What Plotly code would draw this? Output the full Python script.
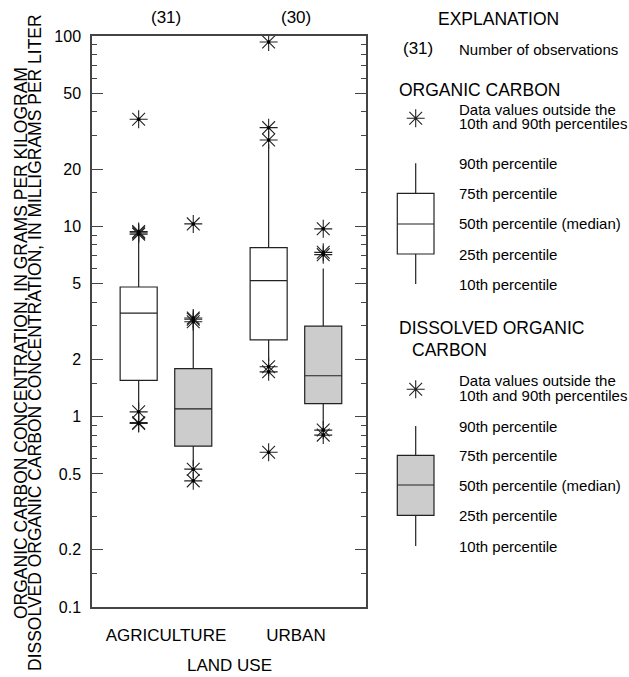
import plotly.graph_objects as go

# ---------------- data ----------------
land_use = ["AGRICULTURE", "URBAN"]
n_obs = [31, 30]

# Organic carbon (g/kg) box statistics per land use
oc_p10 = [1.1, 1.95]
oc_q1 = [1.55, 2.53]
oc_med = [3.5, 5.18]
oc_q3 = [4.8, 7.72]
oc_p90 = [9.0, 27.0]
oc_out_ag = [36.5, 9.4, 9.25, 9.1, 1.06, 0.93, 0.92]
oc_out_ur = [93.0, 33.0, 28.4, 1.83, 1.72, 0.65]

# Dissolved organic carbon (mg/L) box statistics per land use
doc_p10 = [0.55, 0.9]
doc_q1 = [0.70, 1.17]
doc_med = [1.10, 1.64]
doc_q3 = [1.79, 2.99]
doc_p90 = [3.0, 6.0]
doc_out_ag = [10.3, 3.3, 3.25, 3.15, 0.53, 0.46]
doc_out_ur = [9.7, 7.3, 7.1, 0.85, 0.80]

y_tickvals = [0.1, 0.2, 0.5, 1, 2, 5, 10, 20, 50, 100]
y_ticktext = ["0.1", "0.2", "0.5", "1", "2", "5", "10", "20", "50", "100"]
y_minor = [0.15, 0.3, 0.4, 0.6, 0.7, 0.8, 0.9,
           1.5, 3, 4, 6, 7, 8, 9,
           15, 30, 40, 60, 70, 80, 90]

# ---------------- style / layout helpers ----------------
W, H = 629, 677
L, R, T, B = 92, 0, 36, 70
PW = W - L - R
PH = H - T - B
PLOT_RIGHT = 366
OFF = 0.21
BOXW = 0.285
LINE = "#222222"
AX = "#444444"
FONT = "Liberation Sans, Arial, Helvetica, sans-serif"


def xp(px):   # screen px -> paper
    return (px - L) / PW


def yp(py):   # screen px -> paper
    return (T + PH - py) / PH


fig = go.Figure()

idx = list(range(len(land_use)))
oc_pos = [i - OFF for i in idx]
doc_pos = [i + OFF for i in idx]

fig.add_trace(go.Box(
    x=oc_pos, q1=oc_q1, median=oc_med, q3=oc_q3,
    lowerfence=oc_p10, upperfence=oc_p90,
    width=BOXW, whiskerwidth=0, boxpoints=False,
    fillcolor="white", line=dict(color=LINE, width=1.2),
    showlegend=False, hoverinfo="skip"))
fig.add_trace(go.Box(
    x=doc_pos, q1=doc_q1, median=doc_med, q3=doc_q3,
    lowerfence=doc_p10, upperfence=doc_p90,
    width=BOXW, whiskerwidth=0, boxpoints=False,
    fillcolor="#cccccc", line=dict(color=LINE, width=1.2),
    showlegend=False, hoverinfo="skip"))

out_sets = [(oc_pos[0], oc_out_ag), (oc_pos[1], oc_out_ur),
            (doc_pos[0], doc_out_ag), (doc_pos[1], doc_out_ur)]
ox, oy = [], []
for pos, vals in out_sets:
    ox += [pos] * len(vals)
    oy += vals

STAR = dict(symbol="asterisk-open", size=15, color=LINE,
            line=dict(color=LINE, width=1.1))
fig.add_trace(go.Scatter(
    x=ox, y=oy, mode="markers", marker=STAR,
    showlegend=False, hoverinfo="skip"))
fig.add_trace(go.Scatter(
    x=ox, y=oy, mode="markers",
    marker=dict(symbol="circle", size=3.5, color="black"),
    showlegend=False, hoverinfo="skip"))

# legend stars on an auxiliary screen-pixel subplot
leg_star_x = [415.7, 415.7]
leg_star_y = [118.3, 389.3]
fig.add_trace(go.Scatter(
    x=leg_star_x, y=leg_star_y, mode="markers", xaxis="x2", yaxis="y2",
    marker=STAR, showlegend=False, hoverinfo="skip", cliponaxis=False))

fig.update_layout(
    width=W, height=H,
    margin=dict(l=L, r=R, t=T, b=B),
    paper_bgcolor="white", plot_bgcolor="rgba(0,0,0,0)",
    font=dict(family=FONT, color="black", size=16),
    showlegend=False,
    xaxis=dict(
        domain=[0, (PLOT_RIGHT - L) / PW],
        range=[-0.569, 1.539], tickvals=idx, ticktext=land_use,
        ticks="", showgrid=False, zeroline=False,
        showline=True, mirror=True, linecolor=AX, linewidth=1.5,
        tickfont=dict(size=17), ticklabelstandoff=12,
    ),
    yaxis=dict(
        type="log", range=[-1, 2],
        tickvals=y_tickvals, ticktext=y_ticktext,
        ticks="inside", ticklen=11, tickwidth=1.3, tickcolor=AX,
        minor=dict(tickmode="array", tickvals=y_minor, ticks="inside",
                   ticklen=5, tickwidth=1.3, tickcolor=AX),
        showgrid=False, zeroline=False,
        showline=True, mirror="allticks", linecolor=AX, linewidth=1.5,
        tickfont=dict(size=16), ticklabelstandoff=6,
    ),
    xaxis2=dict(domain=[0, 1], range=[L, W - R], anchor="y2",
                visible=False, fixedrange=True),
    yaxis2=dict(domain=[0, 1], range=[T + PH, T], anchor="x2",
                visible=False, fixedrange=True),
)

ann = []
# counts above boxes
for i, n in zip(idx, n_obs):
    ann.append(dict(x=i, y=yp(18), xref="x", yref="paper",
                    xanchor="center", yanchor="middle",
                    text=f"({n})", showarrow=False, font=dict(size=17)))
# axis titles
ann.append(dict(x=xp(229), y=yp(665), xref="paper", yref="paper",
                xanchor="center", yanchor="middle",
                text="LAND USE", showarrow=False, font=dict(size=17)))
ann.append(dict(x=xp(21), y=yp(343), xref="paper", yref="paper",
                xanchor="center", yanchor="middle",
                text="ORGANIC CARBON CONCENTRATION, IN GRAMS PER KILOGRAM",
                textangle=-90, showarrow=False, font=dict(size=17.5)))
ann.append(dict(x=xp(35), y=yp(343), xref="paper", yref="paper",
                xanchor="center", yanchor="middle",
                text="DISSOLVED ORGANIC CARBON CONCENTRATION, IN MILLIGRAMS PER LITER",
                textangle=-90, showarrow=False, font=dict(size=17.5)))


def txt(x, y, s, size=15, anchor="left"):
    ann.append(dict(x=xp(x), y=yp(y), xref="paper", yref="paper", text=s,
                    showarrow=False, xanchor=anchor, yanchor="middle",
                    font=dict(size=size)))


txt(498, 18.7, "EXPLANATION", 17.5, "center")
txt(417.5, 48.5, "(31)", 17, "center")
txt(457, 49.3, "Number of observations")
txt(397.3, 90, "ORGANIC CARBON", 17.5)
txt(457, 109, "Data values outside the")
txt(457, 123.3, "10th and 90th percentiles")
oc_leg = [163.3, 193.3, 224, 254, 284]
doc_leg = [426, 455.3, 485, 515.3, 546]
labels = ["90th percentile", "75th percentile", "50th percentile (median)",
          "25th percentile", "10th percentile"]
for yy, s in zip(oc_leg, labels):
    txt(457, yy, s)
txt(396.7, 328.3, "DISSOLVED ORGANIC", 17.5)
txt(410, 350, "CARBON", 17.5)
txt(457, 380.7, "Data values outside the")
txt(457, 395, "10th and 90th percentiles")
for yy, s in zip(doc_leg, labels):
    txt(457, yy, s)

fig.update_layout(annotations=ann)

# legend box glyphs
shapes = []


def glyph(ys, fill):
    x0, x1, xc = 397.3, 434, 415.7
    w_top, q3y, my, q1y, w_bot = ys
    ln = dict(color=LINE, width=1.2)
    shapes.append(dict(type="line", xref="paper", yref="paper",
                       x0=xp(xc), x1=xp(xc), y0=yp(w_top), y1=yp(q3y), line=ln))
    shapes.append(dict(type="line", xref="paper", yref="paper",
                       x0=xp(xc), x1=xp(xc), y0=yp(q1y), y1=yp(w_bot), line=ln))
    shapes.append(dict(type="rect", xref="paper", yref="paper",
                       x0=xp(x0), x1=xp(x1), y0=yp(q1y), y1=yp(q3y),
                       fillcolor=fill, line=ln))
    shapes.append(dict(type="line", xref="paper", yref="paper",
                       x0=xp(x0), x1=xp(x1), y0=yp(my), y1=yp(my), line=ln))


glyph(oc_leg, "white")
glyph(doc_leg, "#cccccc")
fig.update_layout(shapes=shapes)

fig.write_html(
    "out.html",
    config={"displayModeBar": False},
    post_script="document.body.style.margin='0';"
                "document.body.style.overflow='hidden';",
)
